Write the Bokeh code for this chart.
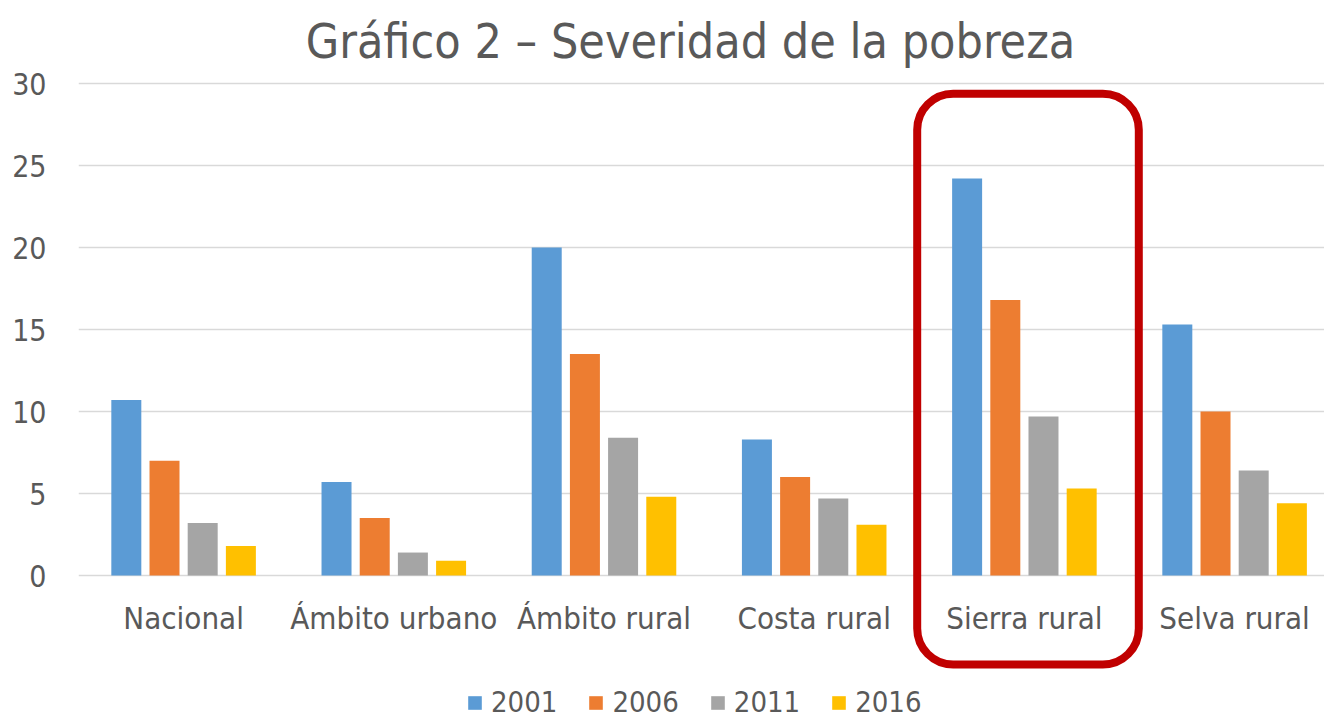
from bokeh.plotting import figure
from bokeh.models import (ColumnDataSource, Range1d, FixedTicker, Legend, LegendItem,
                          BoxAnnotation)
from bokeh.core.properties import value
from bokeh.transform import dodge
from bokeh.embed import file_html
from bokeh.resources import INLINE

title_text = "Gráfico 2 – Severidad de la pobreza"
categories = ["Nacional", "Ámbito urbano", "Ámbito rural", "Costa rural", "Sierra rural", "Selva rural"]
years = ["2001", "2006", "2011", "2016"]
v2001 = [10.7, 5.7, 20.0, 8.3, 24.2, 15.3]
v2006 = [7.0, 3.5, 13.5, 6.0, 16.8, 10.0]
v2011 = [3.2, 1.4, 8.4, 4.7, 9.7, 6.4]
v2016 = [1.8, 0.9, 4.8, 3.1, 5.3, 4.4]
yticks = [0, 5, 10, 15, 20, 25, 30]

colors = ["#5B9BD5", "#ED7D31", "#A5A5A5", "#FFC000"]
FONT = "DejaVu Sans Condensed, DejaVu Sans"
TXT = "#595959"

centers = [i + 0.5 for i in range(len(categories))]
src = ColumnDataSource(dict(xc=centers, name=categories,
                            y2001=v2001, y2006=v2006, y2011=v2011, y2016=v2016))

W, H = 1324, 719
LEFT, TOP = 78, 83
CAT_PX = 210.2
UNIT_PX = (575 - TOP) / 30.0
p = figure(width=W, height=H, output_backend="svg", toolbar_location=None,
           x_range=Range1d(0, (W - LEFT) / CAT_PX),
           y_range=Range1d(-(H - 575) / UNIT_PX, 575 / UNIT_PX),
           min_border_left=LEFT, min_border_right=0, min_border_top=0, min_border_bottom=0)

offsets = [-0.2725, -0.0908, 0.0908, 0.2725]
renderers = []
for yr, off, col in zip(years, offsets, colors):
    r = p.vbar(x=dodge("xc", off, range=p.x_range), top="y" + yr, width=0.1427,
               source=src, fill_color=col, line_color=None)
    renderers.append(r)

p.outline_line_color = None
p.xgrid.grid_line_color = None
p.ygrid.grid_line_color = "#D9D9D9"
p.ygrid.grid_line_width = 1.3
p.ygrid.ticker = FixedTicker(ticks=yticks)

p.yaxis.ticker = FixedTicker(ticks=yticks)
p.yaxis.axis_line_color = None
p.yaxis.major_tick_line_color = None
p.yaxis.minor_tick_line_color = None
p.yaxis.major_tick_out = 0
p.yaxis.major_label_standoff = 32
p.yaxis.major_label_text_font = FONT
p.yaxis.major_label_text_font_size = "30px"
p.yaxis.major_label_text_color = TXT

p.xaxis.visible = False

# chart title, drawn as text in the top band
p.text(x=[(690 - LEFT) / CAT_PX], y=[(575 - 40) / UNIT_PX], text=[title_text],
       text_align="center", text_baseline="alphabetic", text_font=value(FONT),
       text_font_size="48px", text_color=TXT)

# category labels below the zero line
p.text(x="xc", y=-2.6, text="name", source=src, text_align="center",
       text_baseline="alphabetic", text_font=value(FONT), text_font_size="31px",
       text_color=TXT)

box = BoxAnnotation(left=(916.7 - LEFT) / CAT_PX, right=(1138.3 - LEFT) / CAT_PX,
                    top=(575 - 93.2) / UNIT_PX, bottom=(575 - 664) / UNIT_PX,
                    fill_alpha=0, fill_color=None, line_color="#C00000", line_width=8,
                    line_alpha=1, border_radius=36)
p.add_layout(box)

legend = Legend(items=[LegendItem(label=yr, renderers=[r]) for yr, r in zip(years, renderers)],
                orientation="horizontal", location=(466 - LEFT, 0),
                glyph_width=17, glyph_height=17, label_standoff=8, spacing=30,
                label_height=17,
                label_text_font=FONT, label_text_font_size="29px", label_text_color=TXT,
                border_line_color=None, background_fill_alpha=0, padding=0, margin=0)
p.add_layout(legend)

open("out.html", "w").write(file_html(p, INLINE))
